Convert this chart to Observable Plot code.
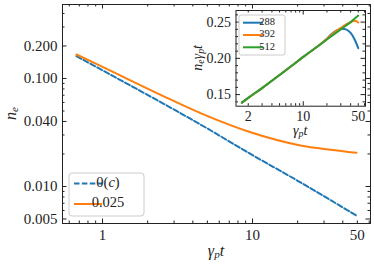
<!DOCTYPE html>
<html><head><meta charset="utf-8">
<script src="https://cdn.jsdelivr.net/npm/d3@7"></script>
<script src="https://cdn.jsdelivr.net/npm/@observablehq/plot@0.6"></script>
<style>
body{margin:0;background:white;}
#chart{position:relative;width:374px;height:265px;}
#chart svg{position:absolute;}
#chart svg, #chart svg text, #chart svg tspan{font-family:'Liberation Serif','Times New Roman',serif !important;}
</style></head><body><div id="chart"></div>
<script>
// ---- main panel data (n_e vs gamma_p t) ----
const seriesMain = ["0(c)", "0.025"];
const colorsMain = ["#1f77b4", "#ff7f0e"];
const tBlue   = [0.67, 1.0, 2.44, 4.5, 9.7, 20.0, 49.3];
const nBlue   = [0.161, 0.119, 0.0604, 0.0375, 0.0200, 0.0113, 0.00538];
const tOrange = [0.67, 1.0, 2.44, 4.5, 9.7, 20.9, 33.1, 49.3];
const nOrange = [0.1667, 0.128, 0.0706, 0.0478, 0.0318, 0.024, 0.0219, 0.0205];
const xTicksMain = [1, 10, 50];
const yTicksMain = [0.005, 0.01, 0.04, 0.1, 0.2];

// ---- inset data (n_e gamma_p t vs gamma_p t) ----
const seriesInset = ["288", "392", "512"];
const colorsInset = ["#1f77b4", "#ff7f0e", "#2ca02c"];
const t288 = [1.66, 2, 3, 5, 7, 10, 15, 20, 22, 27, 31, 35, 40, 45, 50];
const v288 = [0.139, 0.1455, 0.159, 0.177, 0.189, 0.202, 0.216, 0.227, 0.232, 0.239, 0.241, 0.240, 0.235, 0.226, 0.214];
const t392 = [1.66, 2, 3, 5, 7, 10, 15, 20, 25, 30, 35, 40, 44, 48, 50];
const v392 = [0.139, 0.1455, 0.159, 0.177, 0.189, 0.202, 0.216, 0.227, 0.236, 0.242, 0.247, 0.250, 0.252, 0.251, 0.2495];
const t512 = [1.66, 2, 3, 5, 7, 10, 15, 20, 30, 40, 50];
const v512 = [0.139, 0.1455, 0.159, 0.177, 0.189, 0.202, 0.216, 0.226, 0.240, 0.250, 0.259];
const xTicksInset = [2, 10, 50];
const yTicksInset = [0.15, 0.20, 0.25];

const mainRows = [
  ...tBlue.map((t, i) => ({t, n: nBlue[i], s: seriesMain[0]})),
  ...tOrange.map((t, i) => ({t, n: nOrange[i], s: seriesMain[1]}))
];
const insetRows = [
  ...t288.map((t, i) => ({t, v: v288[i], s: seriesInset[0]})),
  ...t392.map((t, i) => ({t, v: v392[i], s: seriesInset[1]})),
  ...t512.map((t, i) => ({t, v: v512[i], s: seriesInset[2]}))
];

function logMinors(lo, hi) {
  const out = [];
  for (let e = Math.floor(Math.log10(lo)); e <= Math.ceil(Math.log10(hi)); e++)
    for (let k = 1; k < 10; k++) { const v = k * Math.pow(10, e); if (v >= lo && v <= hi) out.push(v); }
  return out;
}
const ink = "#222";
const FF = "'Liberation Serif','Times New Roman',serif";
const chart = document.getElementById("chart");

// ---------- main ----------
const W = 374, H = 265, mL = 62, mR = 4, mT = 4, mB = 42;
const pw = W - mL - mR, ph = H - mT - mB;
const xDomMain = [0.541, 61.2], yDomMain = [0.004544, 0.484];
const xMajM = [1, 10], xMinM = logMinors(xDomMain[0], xDomMain[1]).filter(v => !xMajM.includes(v));
const yMajM = yTicksMain, yMinM = logMinors(yDomMain[0], yDomMain[1]).filter(v => !yMajM.some(m => Math.abs(m - v) < 1e-9));
const Lmaj = 4.5, Lmin = 2.5;

const main = Plot.plot({
  width: W, height: H, marginLeft: mL, marginRight: mR, marginTop: mT, marginBottom: mB,
  style: {fontFamily: FF, fontSize: "15px", color: ink, background: "transparent"},
  x: {type: "log", domain: xDomMain, ticks: xTicksMain, tickFormat: d => String(d), tickSize: 0, tickPadding: 6, label: null},
  y: {type: "log", domain: yDomMain, ticks: yTicksMain, tickFormat: d3.format(".3f"), tickSize: 0, tickPadding: 5, label: null},
  marks: [
    Plot.line(mainRows.filter(d => d.s === seriesMain[0]), {x: "t", y: "n", stroke: colorsMain[0], strokeWidth: 2, strokeDasharray: "5.5,2.4", curve: "monotone-x"}),
    Plot.line(mainRows.filter(d => d.s === seriesMain[1]), {x: "t", y: "n", stroke: colorsMain[1], strokeWidth: 2, curve: "monotone-x"}),
    Plot.tickX(xMajM, {x: d => d, insetTop: ph - Lmaj, stroke: ink}),
    Plot.tickX(xMinM, {x: d => d, insetTop: ph - Lmin, stroke: ink}),
    Plot.tickX(xMajM, {x: d => d, insetBottom: ph - Lmaj, stroke: ink}),
    Plot.tickX(xMinM, {x: d => d, insetBottom: ph - Lmin, stroke: ink}),
    Plot.tickY(yMajM, {y: d => d, insetRight: pw - Lmaj, stroke: ink}),
    Plot.tickY(yMinM, {y: d => d, insetRight: pw - Lmin, stroke: ink}),
    Plot.tickY(yMajM, {y: d => d, insetLeft: pw - Lmaj, stroke: ink}),
    Plot.tickY(yMinM, {y: d => d, insetLeft: pw - Lmin, stroke: ink}),
    Plot.frame({stroke: ink, strokeWidth: 1})
  ]
});
main.style.left = "0px"; main.style.top = "0px";
chart.appendChild(main);

const ms = d3.select(main);
function mathLabel(sel, x, y, parts, size, rotate) {
  const t = sel.append("text").attr("x", x).attr("y", y).attr("text-anchor", "middle")
    .style("font-family", FF).attr("font-size", size).attr("fill", ink)
    .attr("dominant-baseline", "middle");
  if (rotate) t.attr("transform", `rotate(-90 ${x} ${y})`);
  let shift = 0;
  for (const [txt, sub] of parts) {
    const dy = sub ? 3 - shift : -shift;
    shift = sub ? 3 : 0;
    t.append("tspan").attr("font-style", "italic").attr("font-size", sub ? size * 0.7 : size).attr("dy", dy).text(txt);
  }
  return t;
}
mathLabel(ms, 12, mT + ph / 2, [["n", false], ["e", true]], 16, true);
mathLabel(ms, mL + pw / 2, 252, [["γ", false], ["p", true], ["t", false]], 16, false);

// main legend
const lg = ms.append("g");
lg.append("rect").attr("x", 69).attr("y", 173).attr("width", 75).attr("height", 43).attr("rx", 3)
  .attr("fill", "white").attr("fill-opacity", 0.8).attr("stroke", "#cccccc");
seriesMain.forEach((s, i) => {
  const y = 183.5 + i * 20.5;
  lg.append("line").attr("x1", 74).attr("x2", 102).attr("y1", y).attr("y2", y)
    .attr("stroke", colorsMain[i]).attr("stroke-width", 2).attr("stroke-dasharray", i === 0 ? "5.5,2.4" : null);
  const t = lg.append("text").attr("x", 108).attr("y", y).attr("dominant-baseline", "middle")
    .style("font-family", FF).attr("font-size", 14.5).attr("fill", ink);
  if (s === "0(c)") { t.append("tspan").text("0("); t.append("tspan").attr("font-style", "italic").text("c"); t.append("tspan").text(")"); }
  else t.text(s);
});

// ---------- inset ----------
const IW = 189, IH = 140, iL = 50.5, iR = 9, iT = 10, iB = 34.3;
const ipw = IW - iL - iR, iph = IH - iT - iB;
const xDomIn = [1.398, 61.8], yDomIn = [0.134, 0.266];
const xMajI = [10], xMinI = logMinors(xDomIn[0], xDomIn[1]).filter(v => v !== 10);
const yMajI = yTicksInset, yMinI = d3.range(0.14, 0.2651, 0.01).filter(v => !yMajI.some(m => Math.abs(m - v) < 1e-9));
const inset = Plot.plot({
  width: IW, height: IH, marginLeft: iL, marginRight: iR, marginTop: iT, marginBottom: iB,
  style: {fontFamily: FF, fontSize: "14px", color: ink, background: "transparent"},
  x: {type: "log", domain: xDomIn, ticks: xTicksInset, tickFormat: d => String(d), tickSize: 0, tickPadding: 5, label: null},
  y: {domain: yDomIn, ticks: yTicksInset, tickFormat: d3.format(".2f"), tickSize: 0, tickPadding: 5, label: null},
  marks: [
    Plot.frame({fill: "white", stroke: "none"}),
    ...seriesInset.map((s, i) => Plot.line(insetRows.filter(d => d.s === s), {x: "t", y: "v", stroke: colorsInset[i], strokeWidth: 2, curve: "monotone-x"})),
    Plot.tickX(xMajI, {x: d => d, insetTop: iph - Lmaj, stroke: ink}),
    Plot.tickX(xMinI, {x: d => d, insetTop: iph - Lmin, stroke: ink}),
    Plot.tickX(xMajI, {x: d => d, insetBottom: iph - Lmaj, stroke: ink}),
    Plot.tickX(xMinI, {x: d => d, insetBottom: iph - Lmin, stroke: ink}),
    Plot.tickY(yMajI, {y: d => d, insetRight: ipw - Lmaj, stroke: ink}),
    Plot.tickY(yMinI, {y: d => d, insetRight: ipw - Lmin, stroke: ink}),
    Plot.tickY(yMajI, {y: d => d, insetLeft: ipw - Lmaj, stroke: ink}),
    Plot.tickY(yMinI, {y: d => d, insetLeft: ipw - Lmin, stroke: ink}),
    Plot.frame({stroke: ink, strokeWidth: 1})
  ]
});
inset.style.left = "185px"; inset.style.top = "0px";
chart.appendChild(inset);
const is = d3.select(inset);
mathLabel(is, 14, iT + iph / 2, [["n", false], ["e", true], ["γ", false], ["p", true], ["t", false]], 14, true);
mathLabel(is, iL + ipw / 2, 132, [["γ", false], ["p", true], ["t", false]], 14, false);
const ilg = is.append("g");
ilg.append("rect").attr("x", 54).attr("y", 15).attr("width", 46).attr("height", 40).attr("rx", 2)
  .attr("fill", "white").attr("fill-opacity", 0.8).attr("stroke", "#cccccc");
seriesInset.forEach((s, i) => {
  const y = 22.7 + i * 12.3;
  ilg.append("line").attr("x1", 58).attr("x2", 78).attr("y1", y).attr("y2", y).attr("stroke", colorsInset[i]).attr("stroke-width", 2);
  ilg.append("text").attr("x", 82).attr("y", y).attr("dominant-baseline", "middle")
    .style("font-family", FF).attr("font-size", 10.5).attr("fill", ink).text(s);
});
</script></body></html>
